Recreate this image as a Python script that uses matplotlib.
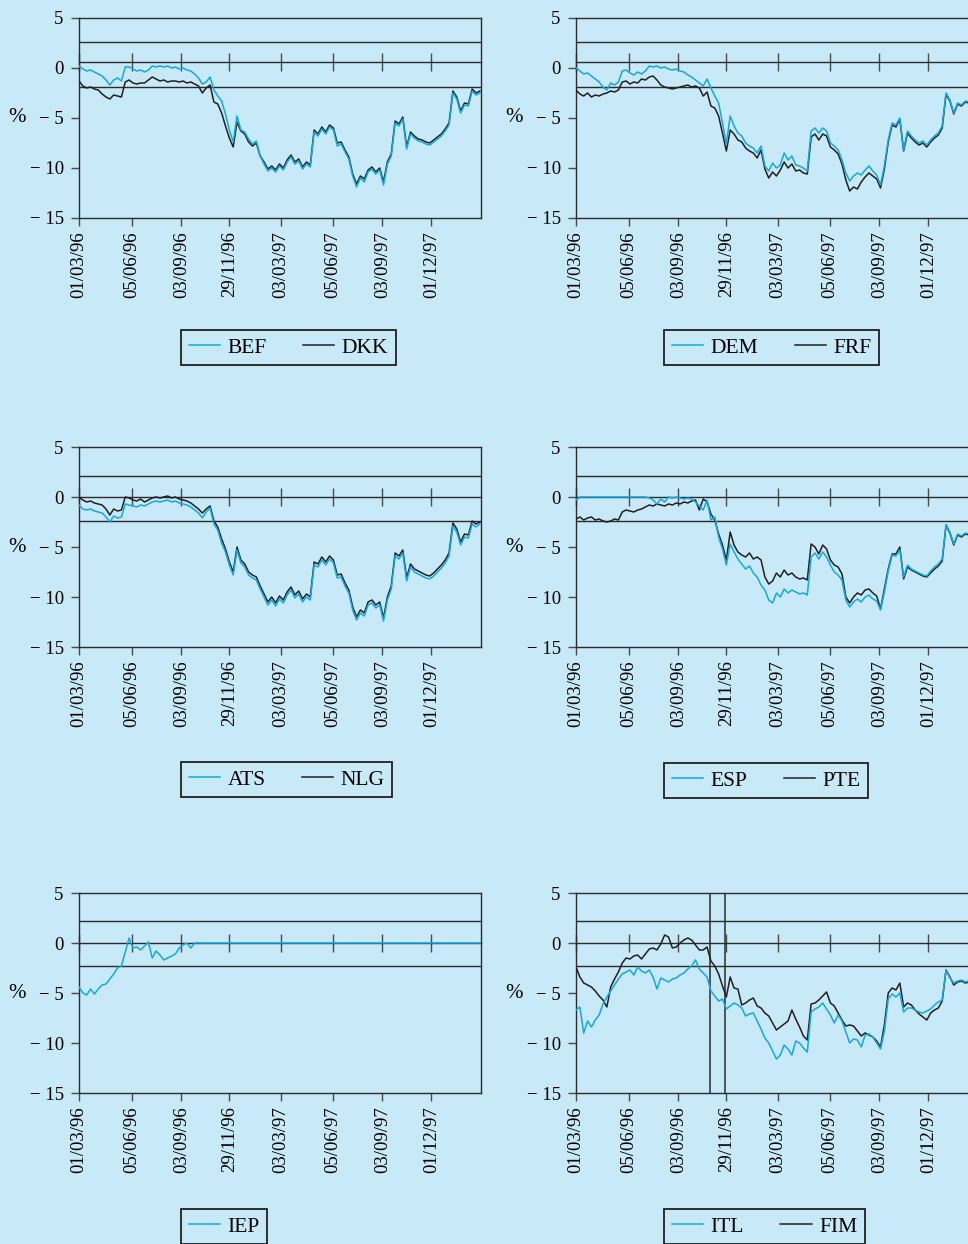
import matplotlib
matplotlib.use("Agg")
import matplotlib.pyplot as plt
import matplotlib.dates as mdates
import pandas as pd
from matplotlib.lines import Line2D
from matplotlib.transforms import blended_transform_factory

plt.rcParams['font.family'] = ['Liberation Serif', 'DejaVu Serif']

# ---------------- data (weekly readings, % deviation) ----------------
start = '1996-03-01'
dates = pd.date_range(start, periods=105, freq='7D')

tick_dates = ['1996-03-01', '1996-06-05', '1996-09-03', '1996-11-29',
              '1997-03-03', '1997-06-05', '1997-09-03', '1997-12-01']
tick_labels = ['01/03/96', '05/06/96', '03/09/96', '29/11/96',
               '03/03/97', '05/06/97', '03/09/97', '01/12/97']
ytick_vals = [5, 0, -5, -10, -15]
ytick_labels = ['5', '0', '\u2212 5', '\u2212 10', '\u2212 15']

BEF = [0.2, -0.1, -0.3, -0.2, -0.4, -0.6, -0.8, -1.2, -1.7, -1.2,
       -1.0, -1.3, 0.1, 0.1, -0.1, -0.3, -0.2, -0.4, -0.2, 0.2,
       0.1, 0.2, 0.1, 0.2, 0.0, 0.1, -0.1, 0.0, -0.2, -0.3,
       -0.6, -1.0, -1.6, -1.4, -0.9, -2.2, -2.8, -3.3, -4.6, -6.2,
       -7.4, -4.8, -6.2, -6.4, -7.1, -7.6, -7.3, -8.8, -9.6, -10.3,
       -10.0, -10.4, -9.8, -10.2, -9.4, -8.9, -9.6, -9.3, -10.1, -9.6,
       -9.9, -6.4, -6.8, -6.1, -6.6, -5.9, -6.2, -7.8, -7.6, -8.4,
       -9.1, -10.8, -11.9, -11.0, -11.4, -10.4, -10.1, -10.6, -10.2, -11.7,
       -9.6, -8.8, -5.5, -5.8, -5.1, -8.1, -6.6, -7.0, -7.3, -7.4,
       -7.6, -7.7, -7.4, -7.1, -6.8, -6.3, -5.7, -2.5, -3.1, -4.5,
       -3.7, -3.8, -2.3, -2.7, -2.5]
DKK = [-1.3, -1.8, -2.0, -1.9, -2.1, -2.2, -2.6, -2.9, -3.1, -2.7,
       -2.8, -2.9, -1.4, -1.2, -1.5, -1.6, -1.5, -1.5, -1.2, -0.9,
       -1.1, -1.3, -1.2, -1.4, -1.3, -1.3, -1.4, -1.3, -1.5, -1.4,
       -1.6, -1.8, -2.5, -2.0, -1.7, -3.4, -3.6, -4.5, -5.8, -7.0,
       -7.9, -5.4, -6.3, -6.6, -7.4, -7.8, -7.5, -8.8, -9.4, -10.1,
       -9.8, -10.2, -9.6, -10.0, -9.2, -8.7, -9.4, -9.1, -9.9, -9.4,
       -9.7, -6.2, -6.6, -5.9, -6.4, -5.7, -6.0, -7.5, -7.4, -8.2,
       -8.9, -10.6, -11.6, -10.8, -11.1, -10.2, -9.9, -10.4, -10.0, -11.4,
       -9.4, -8.6, -5.3, -5.6, -4.9, -7.9, -6.4, -6.8, -7.1, -7.2,
       -7.4, -7.5, -7.2, -6.9, -6.6, -6.1, -5.5, -2.3, -2.9, -4.3,
       -3.5, -3.6, -2.1, -2.5, -2.3]
DEM = [0.0, -0.3, -0.6, -0.5, -0.8, -1.1, -1.4, -1.9, -2.2, -1.5,
       -1.7, -1.4, -0.3, -0.2, -0.5, -0.7, -0.4, -0.6, -0.3, 0.2,
       0.1, 0.2, 0.0, 0.1, -0.1, -0.2, -0.1, -0.3, -0.4, -0.7,
       -0.9, -1.2, -1.5, -1.8, -1.1, -2.0, -2.8, -3.5, -5.5, -7.6,
       -4.8, -5.8, -6.5, -6.8, -7.5, -7.8, -8.0, -8.5, -7.8, -9.8,
       -10.3, -9.5, -10.0, -9.7, -8.5, -9.2, -8.8, -9.7, -9.8, -10.0,
       -10.3, -6.3, -6.0, -6.5, -6.0, -6.3, -7.5, -7.8, -8.2, -9.2,
       -10.5, -11.3, -10.8, -10.5, -10.7, -10.2, -9.8, -10.3, -10.7, -11.7,
       -9.8, -7.2, -5.5, -5.7, -5.0, -8.2, -6.3, -6.8, -7.2, -7.5,
       -7.3, -7.7, -7.2, -6.8, -6.5, -5.8, -2.5, -3.2, -4.5, -3.5,
       -3.7, -3.3, -3.4, -3.0, -2.9]
FRF = [-2.2, -2.6, -2.8, -2.5, -2.9, -2.7, -2.8, -2.6, -2.5, -2.3,
       -2.4, -2.2, -1.4, -1.3, -1.6, -1.4, -1.5, -1.1, -1.2, -0.9,
       -0.8, -1.2, -1.7, -1.9, -2.0, -2.1, -2.0, -1.9, -1.8, -1.7,
       -1.9, -1.8, -2.0, -2.8, -2.4, -3.8, -4.0, -4.8, -6.5, -8.3,
       -6.2, -6.6, -7.2, -7.4, -8.0, -8.3, -8.5, -9.0, -8.2, -10.1,
       -11.0, -10.4, -10.8, -10.2, -9.4, -10.0, -9.6, -10.3, -10.2, -10.5,
       -10.6, -6.9, -6.6, -7.2, -6.6, -6.8, -7.9, -8.2, -8.6, -9.6,
       -11.2, -12.3, -11.9, -12.1, -11.4, -10.9, -10.5, -10.8, -11.1, -12.0,
       -10.1, -7.4, -5.7, -5.9, -5.1, -8.3, -6.5, -7.0, -7.4, -7.7,
       -7.5, -7.9, -7.4, -7.0, -6.7, -6.0, -2.6, -3.3, -4.6, -3.6,
       -3.8, -3.4, -3.5, -3.1, -3.0]
ATS = [-0.8, -1.2, -1.3, -1.2, -1.4, -1.5, -1.6, -2.0, -2.5, -1.9,
       -2.1, -2.0, -0.7, -0.8, -0.9, -1.0, -0.8, -0.9, -0.7, -0.5,
       -0.4, -0.5, -0.4, -0.3, -0.5, -0.4, -0.6, -0.7, -0.8, -1.0,
       -1.3, -1.6, -2.1, -1.5, -1.1, -2.7, -3.3, -4.6, -5.5, -6.8,
       -7.8, -5.3, -6.6, -7.0, -7.8, -8.1, -8.3, -9.2, -10.0, -10.8,
       -10.3, -10.9, -10.2, -10.6, -9.8, -9.3, -10.1, -9.7, -10.5, -10.0,
       -10.3, -6.8, -7.0, -6.3, -6.8, -6.2, -6.6, -8.1, -8.0, -8.9,
       -9.6, -11.3, -12.3, -11.6, -11.9, -10.8, -10.6, -11.1, -10.8, -12.4,
       -10.3, -9.2, -5.9, -6.2, -5.6, -8.4, -7.0, -7.5, -7.7, -7.9,
       -8.1, -8.2, -7.9, -7.5, -7.1, -6.6, -5.9, -2.9, -3.5, -4.8,
       -4.0, -4.1, -2.7, -3.0, -2.7]
NLG = [0.0, -0.3, -0.5, -0.4, -0.6, -0.7, -0.8, -1.2, -1.8, -1.2,
       -1.4, -1.3, 0.0, -0.1, -0.3, -0.4, -0.2, -0.5, -0.3, -0.1,
       0.0, -0.1, 0.0, 0.1, -0.1, 0.0, -0.2, -0.3, -0.4, -0.6,
       -0.9, -1.2, -1.6, -1.2, -0.9, -2.4, -3.0, -4.2, -5.2, -6.5,
       -7.5, -5.0, -6.3, -6.7, -7.5, -7.8, -8.0, -8.9, -9.7, -10.5,
       -10.0, -10.6, -9.9, -10.3, -9.5, -9.0, -9.8, -9.4, -10.2, -9.7,
       -10.0, -6.5, -6.7, -6.0, -6.5, -5.9, -6.3, -7.8, -7.7, -8.6,
       -9.3, -11.0, -12.0, -11.3, -11.6, -10.5, -10.3, -10.8, -10.5, -12.1,
       -10.0, -8.9, -5.6, -5.9, -5.3, -8.1, -6.7, -7.2, -7.4, -7.6,
       -7.8, -7.9, -7.6, -7.2, -6.8, -6.3, -5.6, -2.6, -3.2, -4.5,
       -3.7, -3.8, -2.4, -2.7, -2.5]
ESP = [-0.3, 0.0, 0.0, 0.0, 0.0, 0.0, 0.0, 0.0, 0.0, 0.0,
       0.0, 0.0, 0.0, 0.0, 0.0, 0.0, 0.0, 0.0, 0.0, -0.1,
       -0.3, -0.7, -0.2, -0.5, 0.0, -0.1, 0.0, -0.1, -0.2, -0.1,
       -0.2, -0.5, -0.9, -1.3, -0.3, -2.3, -2.0, -4.0, -5.2, -6.8,
       -4.7, -5.5, -6.2, -6.7, -7.2, -6.9, -7.6, -8.0, -8.8, -9.3,
       -10.3, -10.6, -9.6, -10.0, -9.2, -9.6, -9.3, -9.5, -9.7, -9.6,
       -9.8, -6.0, -5.6, -6.2, -5.5, -6.0, -6.8, -7.5, -7.8, -8.3,
       -10.3, -11.0, -10.5, -10.2, -10.5, -10.0, -9.8, -10.2, -10.4, -11.3,
       -9.5, -7.4, -5.8, -5.9, -5.3, -8.0, -6.8, -7.2, -7.4, -7.6,
       -7.8, -7.9, -7.4, -7.0, -6.7, -6.2, -2.8, -3.5, -4.7, -3.7,
       -3.9, -3.6, -3.7, -3.4, -3.3]
PTE = [-2.2, -2.0, -2.3, -2.1, -2.0, -2.3, -2.2, -2.4, -2.5, -2.4,
       -2.2, -2.3, -1.5, -1.3, -1.4, -1.5, -1.3, -1.2, -1.0, -0.8,
       -0.9, -0.7, -0.8, -0.9, -0.7, -0.8, -0.6, -0.7, -0.5, -0.6,
       -0.4, -0.3, -1.3, -0.2, -0.5, -1.7, -2.3, -3.7, -4.8, -6.3,
       -3.5, -4.8, -5.5, -5.8, -6.0, -5.6, -6.2, -6.0, -6.3, -8.0,
       -8.7, -8.4, -7.6, -8.0, -7.3, -7.8, -7.6, -8.0, -8.2, -8.1,
       -8.3, -4.7, -5.0, -5.7, -4.8, -5.2, -6.3, -6.8, -7.0, -7.7,
       -10.0, -10.6, -10.0, -9.6, -9.8, -9.3, -9.2, -9.6, -9.9, -11.2,
       -9.2, -7.2, -5.7, -5.7, -5.0, -8.2, -7.0, -7.3, -7.5, -7.7,
       -7.9, -8.0, -7.6, -7.2, -6.9, -6.4, -2.8, -3.6, -4.8, -3.8,
       -4.0, -3.7, -3.8, -3.5, -3.4]
IEP = [-4.4, -5.0, -5.2, -4.6, -5.1, -4.6, -4.2, -4.1, -3.6, -3.1,
       -2.5, -2.3, -0.9, 0.5, -0.5, -0.4, -0.7, -0.3, 0.1, -1.5,
       -0.8, -1.2, -1.7, -1.5, -1.3, -1.1, -0.5, -0.2, 0.0, -0.5,
       0.0, 0.0, 0.0, 0.0, 0.0, 0.0, 0.0, 0.0, 0.0, 0.0,
       0.0, 0.0, 0.0, 0.0, 0.0, 0.0, 0.0, 0.0, 0.0, 0.0,
       0.0, 0.0, 0.0, 0.0, 0.0, 0.0, 0.0, 0.0, 0.0, 0.0,
       0.0, 0.0, 0.0, 0.0, 0.0, 0.0, 0.0, 0.0, 0.0, 0.0,
       0.0, 0.0, 0.0, 0.0, 0.0, 0.0, 0.0, 0.0, 0.0, 0.0,
       0.0, 0.0, 0.0, 0.0, 0.0, 0.0, 0.0, 0.0, 0.0, 0.0,
       0.0, 0.0, 0.0, 0.0, 0.0, 0.0, 0.0, 0.0, 0.0, 0.0,
       0.0, 0.0, 0.0, 0.0, 0.0]
ITL = [-6.7, -6.4, -9.0, -7.8, -8.4, -7.7, -7.2, -6.1, -5.4, -4.8,
       -4.2, -3.6, -3.1, -2.9, -2.7, -3.2, -2.4, -2.8, -3.0, -2.7,
       -3.4, -4.6, -3.5, -3.7, -3.9, -3.6, -3.5, -3.2, -3.0, -2.6,
       -2.3, -1.7, -2.6, -3.0, -3.4, -4.8, -5.3, -5.8, -5.6, -6.6,
       -6.3, -6.0, -6.2, -6.5, -7.3, -7.1, -7.0, -7.8, -8.6, -9.5,
       -10.0, -10.8, -11.6, -11.2, -10.2, -10.6, -11.2, -9.8, -10.0, -10.5,
       -10.9, -6.9, -6.6, -6.4, -6.0, -6.6, -7.2, -8.0, -7.2, -7.8,
       -8.9, -10.0, -9.6, -9.7, -10.4, -9.2, -9.1, -9.4, -10.0, -10.6,
       -8.8, -5.6, -5.1, -5.4, -5.0, -6.9, -6.5, -6.5, -6.7, -6.9,
       -7.0, -6.8, -6.6, -6.2, -5.9, -5.7, -2.7, -3.5, -4.0, -3.8,
       -3.7, -3.9, -3.8, -3.7, -3.6]
FIM = [-2.4, -3.4, -4.0, -4.2, -4.4, -4.8, -5.3, -5.7, -6.4, -4.4,
       -3.6, -2.9, -2.0, -1.5, -1.6, -1.3, -1.2, -1.6, -1.1, -0.6,
       -0.5, -0.7, -0.1, 0.8, 0.6, -0.5, -0.4, 0.0, 0.3, 0.5,
       0.3, -0.2, -0.7, -0.7, -0.4, -1.8, -2.3, -3.1, -4.3, -5.4,
       -3.4, -4.5, -4.6, -6.2, -6.0, -5.7, -5.5, -6.3, -6.5, -7.0,
       -7.3, -8.0, -8.7, -8.4, -8.1, -7.8, -6.7, -7.6, -8.4, -9.3,
       -9.7, -6.1, -6.0, -5.7, -5.3, -4.9, -6.0, -6.3, -7.0, -7.7,
       -8.3, -8.2, -8.3, -8.8, -9.3, -9.0, -9.2, -9.4, -9.8, -10.4,
       -8.2, -5.0, -4.5, -4.7, -4.0, -6.4, -6.0, -6.2, -6.7, -7.1,
       -7.4, -7.7, -7.0, -6.7, -6.5, -5.8, -2.7, -3.4, -4.2, -3.9,
       -3.8, -4.0, -3.9, -3.8, -3.7]

# band lines and central line per row
top_bands, top_axisline = [2.65, -1.85], 0.6
mid_bands, mid_axisline = [2.15, -2.35], 0.0
bot_bands, bot_axisline = [2.2, -2.3], 0.0
fim_itl_vlines = ['1996-10-31', '1996-11-27']

# ---------------- style ----------------
BG = '#C7E9F8'
BLUE = '#14A8E0'
BLACK = '#231F20'
DARK = '#2B2B2B'
TICKC = '#4A4A4A'

W, H = 968, 1244
fig = plt.figure(figsize=(W / 100, H / 100), dpi=100, facecolor=BG)

x = mdates.date2num(dates)
xt = mdates.date2num(pd.to_datetime(tick_dates))
xlim = (mdates.date2num(pd.Timestamp('1996-03-01')),
        mdates.date2num(pd.Timestamp('1998-03-01')))

ax_w = 402 / W
ax_h = 200 / H
lefts = [79 / W, 576 / W]
tops = [18, 447, 893]

panels = [
    (0, 0, [('BEF', BEF, BLUE), ('DKK', DKK, BLACK)], top_bands, top_axisline, [], (181, 330)),
    (0, 1, [('DEM', DEM, BLUE), ('FRF', FRF, BLACK)], top_bands, top_axisline, [], (664, 330)),
    (1, 0, [('ATS', ATS, BLUE), ('NLG', NLG, BLACK)], mid_bands, mid_axisline, [], (181, 762)),
    (1, 1, [('ESP', ESP, BLUE), ('PTE', PTE, BLACK)], mid_bands, mid_axisline, [], (664, 763)),
    (2, 0, [('IEP', IEP, BLUE)], bot_bands, bot_axisline, [], (181, 1209)),
    (2, 1, [('ITL', ITL, BLUE), ('FIM', FIM, BLACK)], bot_bands, bot_axisline, fim_itl_vlines, (664, 1209)),
]

for row, col, series, bands, axisline, vlines, (lgx, lgy) in panels:
    top_px = tops[row]
    bottom = 1 - (top_px + 200) / H
    ax = fig.add_axes([lefts[col], bottom, ax_w, ax_h])
    ax.set_facecolor(BG)
    ax.patch.set_alpha(0)
    ax.set_xlim(*xlim)
    ax.set_ylim(-15, 5)
    for sp in ax.spines.values():
        sp.set_color(DARK)
        sp.set_linewidth(1.0)

    for b in bands:
        ax.axhline(b, color=DARK, lw=1.0, zorder=1)
    for v in vlines:
        ax.axvline(mdates.date2num(pd.Timestamp(v)), color=DARK, lw=1.1, zorder=1)

    # central line with crossing ticks
    loc = (axisline + 15) / 20
    sec = ax.secondary_xaxis(loc)
    sec.set_xticks(xt)
    sec.set_xticklabels([])
    sec.tick_params(direction='inout', length=13, width=1.0, color=TICKC)
    for sp in sec.spines.values():
        sp.set_color(DARK)
        sp.set_linewidth(1.0)

    # data
    handles = []
    for name, vals, colr in series:
        z = 4 if colr == BLUE else 3
        ax.plot(x, vals, color=colr, lw=1.1, zorder=z)
        handles.append(Line2D([], [], color=colr, lw=1.1, label=name))

    ax.set_xticks(xt)
    ax.set_xticklabels(tick_labels, rotation=90, fontsize=13.5, va='top', ha='center')
    ax.tick_params(axis='x', direction='out', length=5.5, width=1.0, color=TICKC, pad=4)
    ax.set_yticks(ytick_vals)
    ax.set_yticklabels(ytick_labels, fontsize=13.5)
    ax.tick_params(axis='y', direction='out', length=6, width=1.0, color=TICKC, pad=5)

    trans = blended_transform_factory(ax.transAxes, ax.transData)
    ax.text(-0.153, -5, '%', transform=trans, ha='center', va='center', fontsize=15)

    # legend
    ax_left_px = lefts[col] * W
    ax_bottom_px = top_px + 200
    bx = (lgx - ax_left_px) / 402
    by = -(lgy - ax_bottom_px) / 200
    leg = ax.legend(handles=handles, loc='upper left', bbox_to_anchor=(bx, by),
                    ncol=len(handles), frameon=True, fancybox=False,
                    edgecolor=BLACK, facecolor=BG, framealpha=1,
                    fontsize=15.5, handlelength=1.45, handletextpad=0.35,
                    columnspacing=1.7, borderpad=0.35, borderaxespad=0)
    leg.get_frame().set_linewidth(1.3)

fig.savefig('out.png', dpi=100, facecolor=BG)
